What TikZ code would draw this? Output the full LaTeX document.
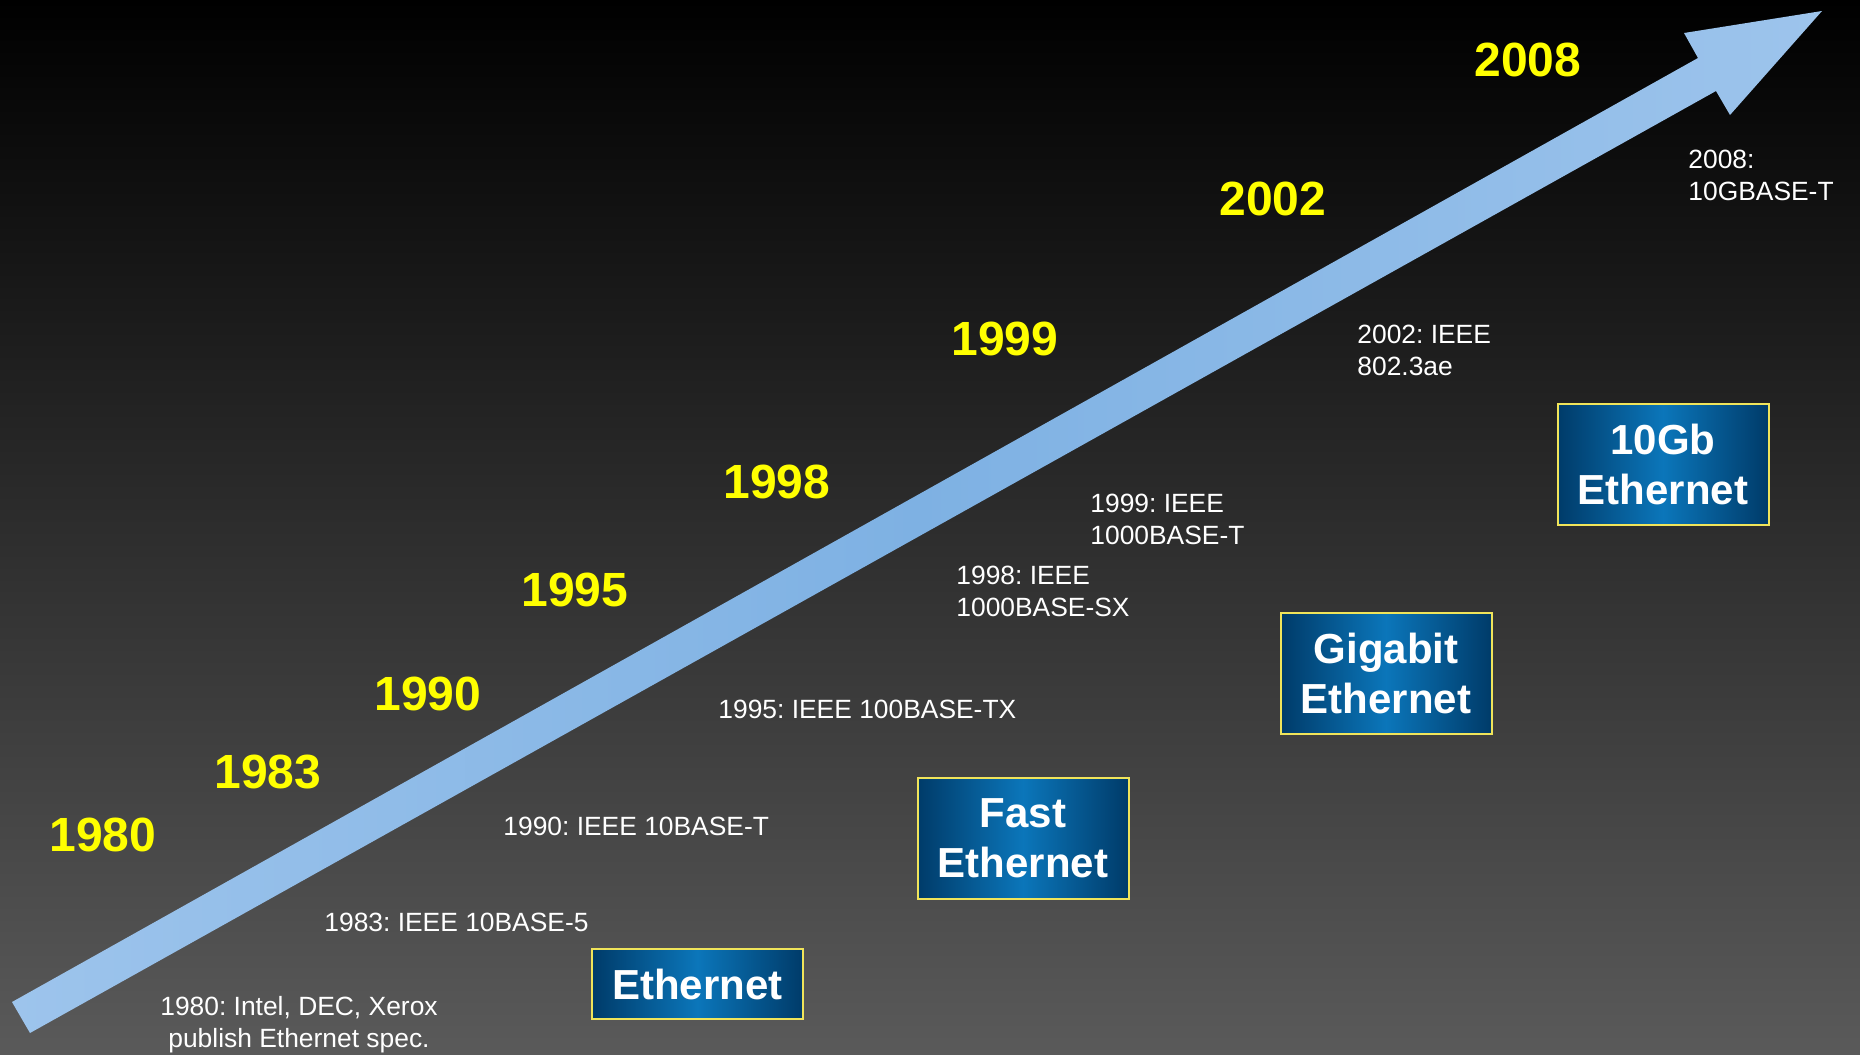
\documentclass[tikz,border=0pt]{standalone}
\usepackage{fontspec}
\setmainfont{Liberation Sans}
\frenchspacing

\definecolor{bgtop}{HTML}{000000}
\definecolor{bgbottom}{HTML}{5A5A5A}
\definecolor{arrowlight}{HTML}{9DC4EC}
\definecolor{arrowmid}{HTML}{7EB1E3}
\definecolor{boxdark}{HTML}{003B69}
\definecolor{boxlight}{HTML}{0B76BA}
\definecolor{boxline}{HTML}{F0E45A}
\definecolor{yeartext}{HTML}{FFFF00}

\tikzset{
  year/.style={text=yeartext, inner sep=0pt, font=\fontsize{24}{28}\selectfont\bfseries},
  note/.style={text=white, inner sep=0pt, anchor=west, align=left, font=\fontsize{13.2}{16}\selectfont},
  techbox/.style={draw=boxline, line width=1pt, left color=boxdark, right color=boxdark, middle color=boxlight,
    text=white, inner sep=0pt, minimum width=105.5pt, align=center, font=\fontsize{21}{25}\selectfont\bfseries}
}

\begin{document}
\begin{tikzpicture}[x=0.5pt,y=-0.5pt]
    \useasboundingbox (0,0) rectangle (1860,1055);
    \fill[top color=bgtop, bottom color=bgbottom] (0,0) rectangle (1860,1055);

    % the timeline arrow
    \coordinate (tailtop) at (12,1002);
    \coordinate (tailbot) at (30,1033);
    \coordinate (necktop) at (1698,58);
    \coordinate (neckbot) at (1716,91);
    \coordinate (wingtop) at (1684,33);
    \coordinate (wingbot) at (1730,115);
    \coordinate (tip) at (1822,11);
    \shade[left color=arrowlight, right color=arrowlight, middle color=arrowmid]
        (tailtop) -- (necktop) -- (wingtop) -- (tip) -- (wingbot) -- (neckbot) -- (tailbot) -- cycle;

    % years
    \node (y1980) at (103,835) [year] {1980};
    \node (y1983) at (268,772) [year] {1983};
    \node (y1990) at (428,694) [year] {1990};
    \node (y1995) at (575,590) [year] {1995};
    \node (y1998) at (777,482) [year] {1998};
    \node (y1999) at (1005,339) [year] {1999};
    \node (y2002) at (1273,199) [year] {2002};
    \node (y2008) at (1528,60) [year] {2008};

    % standards
    \node (n1980) at (299,1025) [note, anchor=center, align=center] {1980: Intel, DEC, Xerox\\publish Ethernet spec.};
    \node (n1983) at (324,922) [note] {1983: IEEE 10BASE-5};
    \node (n1990) at (503,826) [note] {1990: IEEE 10BASE-T};
    \node (n1995) at (718,709) [note] {1995: IEEE 100BASE-TX};
    \node (n1998) at (956,591) [note] {1998: IEEE\\1000BASE-SX};
    \node (n1999) at (1090,519) [note] {1999: IEEE\\1000BASE-T};
    \node (n2002) at (1357,350) [note] {2002: IEEE\\802.3ae};
    \node (n2008) at (1688,175) [note] {2008:\\10GBASE-T};

    % speeds
    \node (eth) at (697.5,984) [techbox, minimum height=35pt] {Ethernet};
    \node (fast) at (1023,838.5) [techbox, minimum height=60.5pt] {Fast\\Ethernet};
    \node (giga) at (1386,673.5) [techbox, minimum height=60.5pt] {Gigabit\\Ethernet};
    \node (tengig) at (1663,464.5) [techbox, minimum height=60.5pt] {10Gb\\Ethernet};
\end{tikzpicture}
\end{document}
